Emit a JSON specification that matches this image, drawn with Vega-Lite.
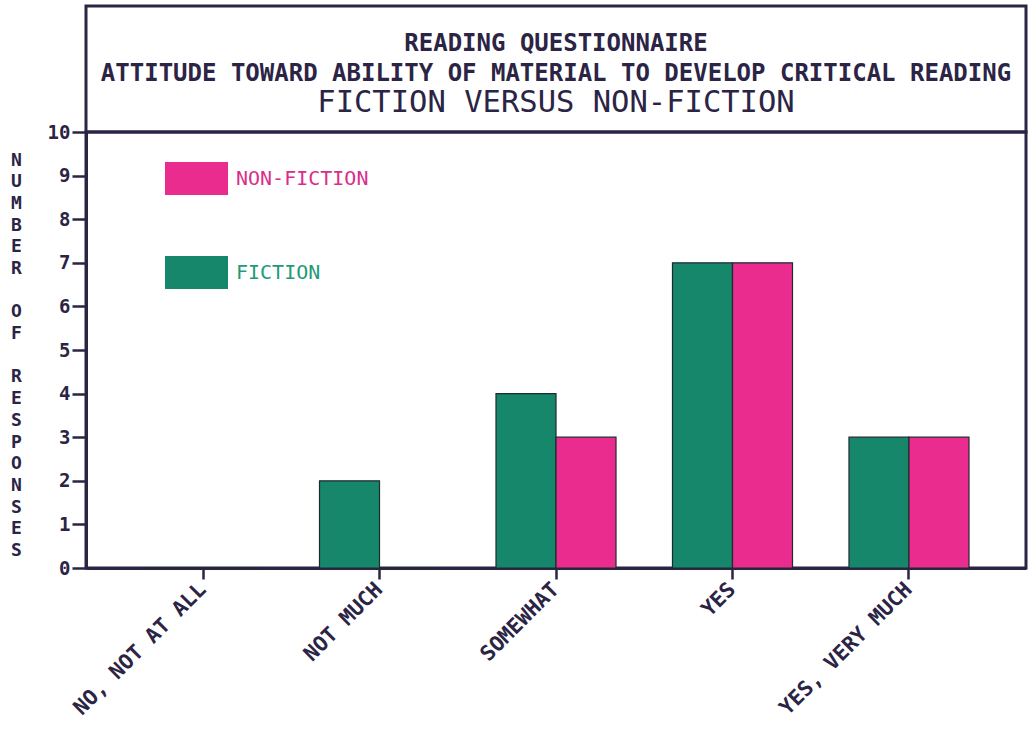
{
  "$schema": "https://vega.github.io/schema/vega-lite/v6.json",
  "background": "white",
  "padding": {"left": 9, "top": 4, "right": 2, "bottom": 0},
  "bounds": "flush",
  "config": {
    "font": "DejaVu Sans Mono",
    "concat": {"spacing": 0},
    "view": {"stroke": "#2b2445", "strokeWidth": 3}
  },
  "vconcat": [
    {
      "width": 940,
      "height": 126,
      "data": {"values": [
        {"line": "1", "text": "READING QUESTIONNAIRE"},
        {"line": "2", "text": "ATTITUDE TOWARD ABILITY OF MATERIAL TO DEVELOP CRITICAL READING"},
        {"line": "3", "text": "FICTION VERSUS NON-FICTION"}
      ]},
      "encoding": {
        "y": {"field": "line", "type": "ordinal", "scale": {"type": "point", "range": [38, 97], "padding": 0}, "axis": null},
        "text": {"field": "text"}
      },
      "layer": [
        {
          "transform": [{"filter": "datum.line != '3'"}],
          "mark": {"type": "text", "font": "DejaVu Sans Mono", "fontSize": 24, "fontWeight": "bold", "color": "#2b2445", "baseline": "middle", "align": "center"}
        },
        {
          "transform": [{"filter": "datum.line == '3'"}],
          "mark": {"type": "text", "font": "DejaVu Sans Mono", "fontSize": 30.5, "fontWeight": "normal", "color": "#2b2445", "baseline": "middle", "align": "center"}
        }
      ]
    },
    {
      "width": 940,
      "height": 436,
      "data": {"values": [
        {"category": "NO, NOT AT ALL", "type": "FICTION", "count": 0},
        {"category": "NO, NOT AT ALL", "type": "NON-FICTION", "count": 0},
        {"category": "NOT MUCH", "type": "FICTION", "count": 2},
        {"category": "NOT MUCH", "type": "NON-FICTION", "count": 0},
        {"category": "SOMEWHAT", "type": "FICTION", "count": 4},
        {"category": "SOMEWHAT", "type": "NON-FICTION", "count": 3},
        {"category": "YES", "type": "FICTION", "count": 7},
        {"category": "YES", "type": "NON-FICTION", "count": 7},
        {"category": "YES, VERY MUCH", "type": "FICTION", "count": 3},
        {"category": "YES, VERY MUCH", "type": "NON-FICTION", "count": 3}
      ]},
      "mark": {"type": "bar", "stroke": "#1f2a30", "strokeWidth": 1.2},
      "encoding": {
        "x": {
          "field": "category", "type": "nominal",
          "sort": ["NO, NOT AT ALL", "NOT MUCH", "SOMEWHAT", "YES", "YES, VERY MUCH"],
          "scale": {"paddingInner": 0.32, "paddingOuter": 0.323},
          "axis": {
            "title": null,
            "labelAngle": -45, "labelAlign": "right", "labelBaseline": "middle",
            "labelFont": "DejaVu Sans Mono", "labelFontSize": 21, "labelFontWeight": "bold",
            "labelColor": "#2b2445", "labelPadding": 7, "labelLimit": 400,
            "domainColor": "#2b2445", "domainWidth": 3,
            "tickColor": "#2b2445", "tickWidth": 2.5, "tickSize": 11
          }
        },
        "xOffset": {"field": "type", "type": "nominal", "sort": ["FICTION", "NON-FICTION"]},
        "y": {
          "field": "count", "type": "quantitative",
          "scale": {"domain": [0, 10], "nice": false},
          "axis": {
            "values": [0, 1, 2, 3, 4, 5, 6, 7, 8, 9, 10],
            "grid": false,
            "title": ["N", "U", "M", "B", "E", "R", "\u200b", "O", "F", "\u200b", "R", "E", "S", "P", "O", "N", "S", "E", "S"],
            "titleAngle": 0, "titleAlign": "center", "titleBaseline": "top",
            "titleX": -70, "titleY": 19,
            "titleFont": "DejaVu Sans Mono", "titleFontSize": 18, "titleFontWeight": "bold",
            "titleLineHeight": 21.7, "titleColor": "#2b2445",
            "labelFont": "DejaVu Sans Mono", "labelFontSize": 19, "labelFontWeight": "bold",
            "labelColor": "#2b2445", "labelPadding": 2,
            "domainColor": "#2b2445", "domainWidth": 3,
            "tickColor": "#2b2445", "tickWidth": 2.5, "tickSize": 14
          }
        },
        "color": {
          "field": "type", "type": "nominal",
          "scale": {"domain": ["NON-FICTION", "FICTION"], "range": ["#ea2c8e", "#16876a"]},
          "legend": {
            "title": null,
            "orient": "none", "legendX": 79, "legendY": 141,
            "padding": 0,
            "symbolType": "M-1,-0.524H1V0.524H-1Z",
            "symbolSize": 3969,
            "symbolStrokeWidth": 0,
            "rowPadding": 45,
            "labelOffset": 8,
            "labelFont": "DejaVu Sans Mono", "labelFontSize": 20,
            "labelColor": {"expr": "datum.value == 'NON-FICTION' ? '#d8308a' : '#239a78'"}
          }
        }
      }
    }
  ]
}
